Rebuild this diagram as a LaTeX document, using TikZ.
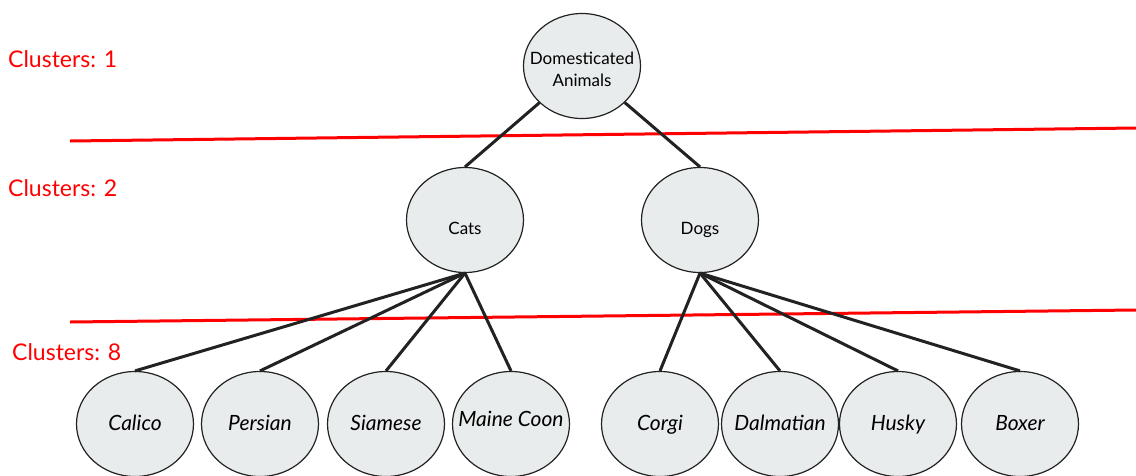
\documentclass[tikz,border=0pt]{standalone}
\usepackage{fontspec}
\setmainfont{Lato}
\usepackage{xcolor}
\usepackage{tikz}
\usetikzlibrary{shapes.geometric}
\definecolor{NodeFill}{RGB}{232,236,236}
\definecolor{EdgeBlack}{RGB}{34,34,34}
\definecolor{CutRed}{RGB}{255,0,0}
% text set at the node centre, shifted down by #1
\newcommand{\inside}[2]{\raisebox{#1}[0pt][0pt]{\makebox[0pt]{#2}}}

\begin{document}
\begin{tikzpicture}[x=1pt, y=-1pt,
    animal/.style={ellipse, draw=EdgeBlack, line width=1.2pt, fill=NodeFill, inner sep=0pt,
        minimum width=117pt, minimum height=105pt, font=\fontsize{17}{22}\selectfont},
    breed/.style={animal, font=\fontsize{21}{24}\selectfont\itshape},
    edge/.style={line width=3pt, color=EdgeBlack},
    cut/.style={line width=3pt, color=CutRed},
    level/.style={anchor=west, inner sep=0pt, color=CutRed, font=\fontsize{23}{26}\selectfont}]
    \useasboundingbox (0,0) rectangle (1136,475);

    % Cluster cut lines
    \draw[cut] (70,141) -- (1136,128);
    \draw[cut] (70,322) -- (1136,310);

    % Cluster counts
    \node[level] (lvlone) at (8,59) {Clusters: 1};
    \node[level] (lvltwo) at (8,188) {Clusters: 2};
    \node[level] (lvleight) at (12,352) {Clusters: 8};

    % Root
    \node[animal] (root) at (582,66) {\inside{-9pt}{\begin{tabular}{@{}c@{}}Domesticated\\Animals\end{tabular}}};

    % Second level
    \node[animal] (cats) at (465,220) {\inside{-14pt}{Cats}};
    \node[animal] (dogs) at (700,220) {\inside{-14pt}{Dogs}};

    % Breeds
    \node[breed] (calico) at (135,424) {\inside{-6pt}{Calico}};
    \node[breed] (persian) at (260,424) {\inside{-6pt}{Persian}};
    \node[breed] (siamese) at (386,424) {\inside{-6pt}{Siamese}};
    \node[breed] (coon) at (511,424) {\inside{-2pt}{Maine Coon}};
    \node[breed] (corgi) at (660,424) {\inside{-6pt}{Corgi}};
    \node[breed] (dalmatian) at (780,424) {\inside{-6pt}{Dalmatian}};
    \node[breed] (husky) at (898,424) {\inside{-6pt}{Husky}};
    \node[breed] (boxer) at (1020,424) {\inside{-6pt}{Boxer}};

    % Edges
    \draw[edge] (root) -- (cats.north);
    \draw[edge] (root) -- (dogs.north);
    \foreach \b in {calico,persian,siamese,coon}
        \draw[edge] (cats.south) -- (\b.north);
    \foreach \b in {corgi,dalmatian,husky,boxer}
        \draw[edge] (dogs.south) -- (\b.north);
\end{tikzpicture}
\end{document}
